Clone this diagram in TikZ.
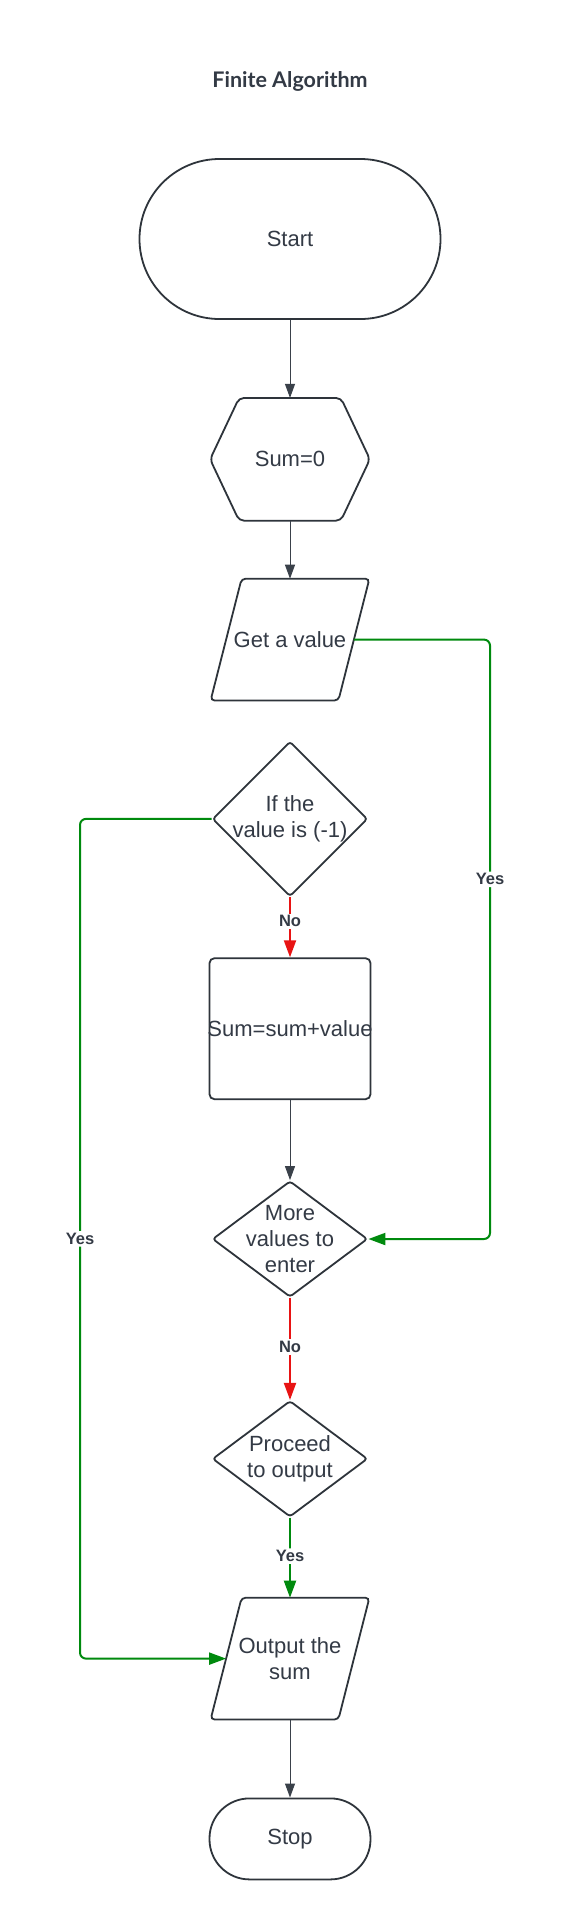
\documentclass[tikz,border=0pt]{standalone}
\usepackage{fontspec}
\setmainfont{Liberation Sans}
\newfontfamily\titlefont{Lato}
\usepackage{xcolor}
\usetikzlibrary{positioning,shapes.geometric,arrows.meta}

\definecolor{shapegray}{HTML}{2E343B}
\definecolor{linegray}{HTML}{3A414A}
\definecolor{textgray}{HTML}{333A45}
\definecolor{yesgreen}{HTML}{008A0E}
\definecolor{nored}{HTML}{E81313}

% slanted frame round an input/output box
\newcommand\ioframe[1]{\draw[outline, rounded corners=4pt] ([xshift=31pt]#1.north west) -- (#1.north east) -- ([xshift=-31pt]#1.south east) -- (#1.south west) -- cycle;}

\begin{document}
\begin{tikzpicture}[
  outline/.style={draw=shapegray, line width=1.8pt},
  base/.style={outline, text=textgray, align=center, font=\fontsize{22}{26}\selectfont},
  term/.style={base, rectangle, rounded corners=#1},
  prep/.style={base, draw=none, rectangle, minimum width=158pt, minimum height=121pt},
  io/.style={base, draw=none, rectangle, minimum width=157pt, minimum height=120pt},
  proc/.style={base, rectangle, minimum width=161pt, minimum height=141pt, inner xsep=-2pt, rounded corners=5pt},
  decision/.style={base, diamond, minimum width=155pt, minimum height=#1, inner sep=-8pt, rounded corners=3pt},
  flow/.style={draw=linegray, line width=1pt, -{Triangle[length=14pt,width=10pt]}},
  yesline/.style={draw=yesgreen, line width=2pt, rounded corners=6pt, -{Triangle[length=17pt,width=12pt]}},
  noline/.style={draw=nored, line width=2pt, -{Triangle[length=17pt,width=12pt]}},
  lbl/.style={fill=white, text=textgray, inner sep=2pt, font=\bfseries\fontsize{16.5}{19}\selectfont}
]
  \path[use as bounding box, fill=white] (0pt,0pt) rectangle (580pt,-1920pt);

  \node[text=textgray, font=\titlefont\bfseries\fontsize{21.5}{25}\selectfont] (title) at (290pt,-81pt) {Finite Algorithm};

  \node[term=80pt, minimum width=301pt, minimum height=160pt] (start) at (290pt,-239pt) {Start}; %
  \node[prep, below=78pt of start] (zero) {Sum=0}; %
  \node[io, below=58pt of zero] (get) {Get a value}; %
  \node[decision=155pt, aspect=1, below=40pt of get] (ifneg) {If the\\value is (-1)}; %
  \node[proc, below=60pt of ifneg] (add) {Sum=sum+value}; %
  \node[decision=116pt, aspect=1.34, below=80pt of add] (more) {More\\values to\\enter}; %
  \node[decision=116pt, aspect=1.34, below=102pt of more] (proceed) {Proceed\\to output}; %
  \node[io, below=80pt of proceed] (output) {Output the\\sum}; %
  \node[term=40pt, minimum width=161pt, minimum height=81pt, below=78pt of output] (stop) {Stop}; %

  % hexagon round the preparation step
  \draw[outline, rounded corners=5pt] ([xshift=29pt]zero.north west) -- ([xshift=-29pt]zero.north east) -- (zero.east) -- ([xshift=-29pt]zero.south east) -- ([xshift=29pt]zero.south west) -- (zero.west) -- cycle;
  \ioframe{get}
  \ioframe{output}

  \coordinate (rx) at (490pt,0pt);
  \coordinate (lx) at (80pt,0pt);
  \coordinate (getright) at ([xshift=-15.5pt]get.east);
  \coordinate (outleft) at ([xshift=15.5pt]output.west);

  \draw[flow] (start) -- (zero);
  \draw[flow] (zero) -- (get);
  \draw[noline] (ifneg) -- node[lbl, pos=0.4] {No} (add);
  \draw[flow] (add) -- (more);
  \draw[noline] (more) -- node[lbl, pos=0.48] {No} (proceed);
  \draw[yesline] (proceed) -- node[lbl, pos=0.48] {Yes} (output);
  \draw[flow] (output) -- (stop);
  \draw[yesline] (getright) -- (getright -| rx) -- node[lbl, pos=0.4] {Yes} (more.east -| rx) -- (more.east);
  \draw[yesline] (ifneg.west) -- (ifneg.west -| lx) -- node[lbl, pos=0.5] {Yes} (outleft -| lx) -- (outleft);
\end{tikzpicture}
\end{document}
